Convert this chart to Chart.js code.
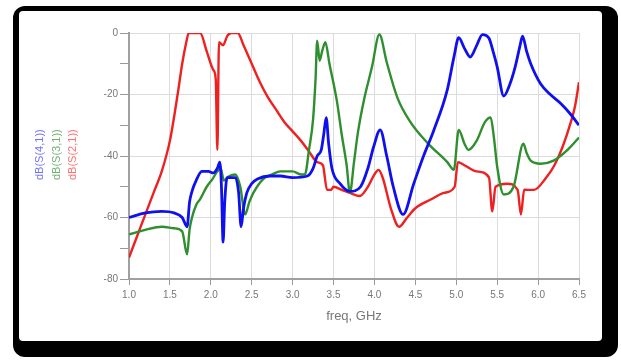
<!DOCTYPE html>
<html>
<head>
<meta charset="utf-8">
<script src="https://cdn.jsdelivr.net/npm/chart.js@4"></script>
<style>
  html, body { margin: 0; padding: 0; background: #fff; }
  body { width: 621px; height: 360px; position: relative; overflow: hidden; }
  #frame { position: absolute; left: 13px; top: 6px; width: 605px; height: 351px; background: #000; border-radius: 12px; }
  #paper { position: absolute; left: 19px; top: 11px; width: 583px; height: 330px; background: #fff; border-radius: 4px; }
  #chart { position: absolute; left: 0; top: 0; }
  .leg { position: absolute; top: 118px; height: 62px; font: 11px "Liberation Sans", Arial, sans-serif;
         writing-mode: vertical-rl; transform: rotate(180deg); text-align: left; }
</style>
</head>
<body>
<div id="frame"></div>
<div id="paper"></div>
<canvas id="chart" width="621" height="360"></canvas>
<div class="leg" style="left:33px;color:#7070ff">dB(S(4,1))</div>
<div class="leg" style="left:50px;color:#70b070">dB(S(3,1))</div>
<div class="leg" style="left:66px;color:#ff7070">dB(S(2,1))</div>
<script>
const xTicks = [1.0, 1.5, 2.0, 2.5, 3.0, 3.5, 4.0, 4.5, 5.0, 5.5, 6.0, 6.5];
const yTicks = [0, -20, -40, -60, -80];

const s41Freq = [1.0, 1.2, 1.4, 1.55, 1.65, 1.71, 1.74, 1.77, 1.82, 1.89, 1.97, 2.03, 2.08, 2.11, 2.13, 2.15, 2.17, 2.2, 2.3, 2.34, 2.37, 2.4, 2.44, 2.5, 2.57, 2.72, 2.85, 3.0, 3.18, 3.25, 3.3, 3.35, 3.38, 3.41, 3.44, 3.48, 3.58, 3.7, 3.83, 3.92, 3.99, 4.07, 4.15, 4.23, 4.35, 4.48, 4.6, 4.72, 4.89, 4.97, 5.03, 5.1, 5.17, 5.25, 5.32, 5.4, 5.45, 5.5, 5.58, 5.65, 5.72, 5.78, 5.81, 5.86, 5.91, 6.03, 6.15, 6.28, 6.4, 6.5];
const s41Db = [-60, -58.5, -58, -58.5, -60, -63, -55, -51.5, -48, -45, -45, -45.5, -44, -42, -50, -68, -55, -47, -47, -52, -63, -57, -52, -49, -47.5, -46.5, -46.5, -47, -46.5, -44, -40, -38, -33, -27.5, -36, -44, -49, -51.5, -50, -44, -37, -31.5, -40, -50, -59, -49, -40, -32, -18.5, -8, -1.5, -5, -7.8, -4, -0.5, -1.7, -6, -11, -20.5, -17, -11, -4, -1, -6, -10, -16.5, -20, -23, -26.5, -30];

const s31Freq = [1.0, 1.2, 1.4, 1.55, 1.65, 1.71, 1.74, 1.77, 1.82, 1.87, 1.95, 2.02, 2.08, 2.12, 2.16, 2.2, 2.3, 2.36, 2.42, 2.47, 2.52, 2.64, 2.75, 2.85, 3.0, 3.1, 3.15, 3.2, 3.25, 3.28, 3.3, 3.33, 3.36, 3.4, 3.45, 3.54, 3.6, 3.66, 3.7, 3.75, 3.8, 3.87, 3.97, 4.06, 4.15, 4.28, 4.44, 4.65, 4.89, 4.97, 5.03, 5.1, 5.15, 5.25, 5.35, 5.42, 5.46, 5.5, 5.58, 5.7, 5.82, 5.86, 5.91, 6.03, 6.19, 6.36, 6.5];
const s31Db = [-65.5, -64, -63, -63.5, -64.5, -72, -64, -60, -56, -54, -50, -47.5, -45, -44, -48, -47, -46, -50, -59, -55, -52, -47.5, -46, -45, -45, -46, -46, -38, -28, -15, -2.5, -9, -6, -3, -10, -22, -33, -43, -52, -42, -32, -22, -11, -0.5, -9.5, -21, -29, -35.8, -42, -44.5, -31.5, -36, -38, -35, -29, -27.5, -34, -43.5, -52.5, -50, -36, -39, -41.5, -42.5, -41.5, -38, -34];

const s21Freq = [1.0, 1.1, 1.2, 1.3, 1.4, 1.5, 1.6, 1.65, 1.7, 1.73, 1.87, 1.95, 2.03, 2.06, 2.08, 2.1, 2.15, 2.2, 2.25, 2.33, 2.4, 2.5, 2.6, 2.7, 2.8, 2.9, 3.0, 3.1, 3.2, 3.3, 3.37, 3.42, 3.47, 3.5, 3.6, 3.7, 3.82, 3.92, 4.0, 4.05, 4.1, 4.2, 4.3, 4.4, 4.5, 4.7, 4.85, 4.98, 5.02, 5.1, 5.25, 5.4, 5.44, 5.48, 5.62, 5.75, 5.79, 5.83, 5.95, 6.1, 6.2, 6.3, 6.4, 6.45, 6.5];
const s21Db = [-73, -66, -59, -52, -45, -35, -19, -10, -3, 0, 0, -6, -12, -15, -38, -3, -4, -1, 0, 0, -4, -10, -16, -21, -25, -29, -32, -35, -38.5, -42, -43, -51, -51, -50, -51, -52, -53, -50, -46, -44.5, -47, -57, -63, -60, -57, -54, -52, -50, -42, -43, -45, -47, -58, -50, -49, -51, -59, -51, -51, -47, -43, -37, -29, -24, -16];

const pts = (fs, ds) => fs.map((f, i) => ({ x: f, y: ds[i] }));

const line = (label, color, fs, ds, width) => ({
  label: label,
  data: pts(fs, ds),
  borderColor: color,
  borderWidth: width,
  pointRadius: 0,
  fill: false,
  cubicInterpolationMode: "monotone",
});

const tickFont = { family: "Liberation Sans", size: 10 };

new Chart(document.getElementById("chart"), {
  type: "line",
  data: {
    datasets: [
      line("dB(S(4,1))", "#1010ee", s41Freq, s41Db, 2.8),
      line("dB(S(3,1))", "#2f8f2f", s31Freq, s31Db, 2.4),
      line("dB(S(2,1))", "#ee2020", s21Freq, s21Db, 2.4),
    ],
  },
  options: {
    responsive: false,
    animation: false,
    layout: { padding: { left: 89, top: 33, right: 42, bottom: 32 } },
    plugins: { legend: { display: false }, tooltip: { enabled: false } },
    scales: {
      x: {
        type: "linear",
        min: 1,
        max: 6.5,
        afterBuildTicks: (s) => { s.ticks = xTicks.map((v) => ({ value: v })); },
        afterFit: (s) => { s.height = 49; },
        ticks: { color: "#777", font: tickFont, padding: 4, callback: (v) => v.toFixed(1) },
        grid: { color: "#dcdcdc", lineWidth: 1, tickColor: "#999", tickLength: 6 },
        border: { color: "#a0a0a0", width: 2 },
        title: { display: true, text: "freq, GHz", color: "#777", font: { family: "Liberation Sans", size: 13 }, padding: { top: 6 } },
      },
      y: {
        min: -80,
        max: 0,
        afterBuildTicks: (s) => {
          s.ticks = [];
          for (let v = -80; v <= 0; v += 10) s.ticks.push({ value: v });
        },
        afterFit: (s) => { s.width = 40; },
        ticks: {
          color: "#777",
          font: tickFont,
          padding: 2,
          callback: (v) => (yTicks.includes(v) ? String(v) : ""),
        },
        grid: {
          color: (c) => (c.tick && c.tick.value % 20 === 0 ? "#dcdcdc" : "rgba(0,0,0,0)"),
          lineWidth: 1,
          tickColor: "#999",
          tickLength: 9,
        },
        border: { color: "#a0a0a0", width: 2 },
      },
    },
  },
});
</script>
</body>
</html>
